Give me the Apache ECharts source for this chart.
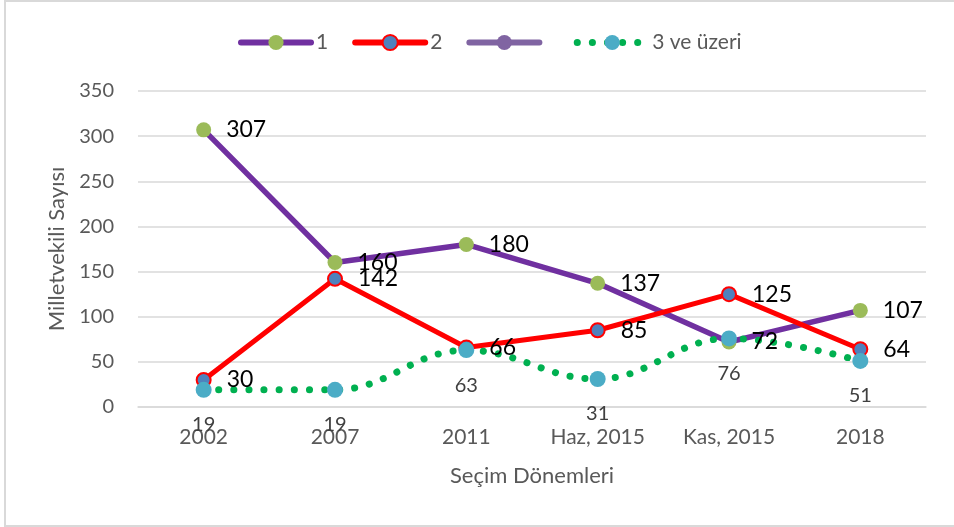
<!DOCTYPE html>
<html>
<head>
<meta charset="utf-8">
<script src="https://cdn.jsdelivr.net/npm/echarts@6/dist/echarts.min.js"></script>
<style>
  html, body { margin: 0; padding: 0; background: #fff; }
  #chart { width: 954px; height: 527px; }
</style>
</head>
<body>
<div id="chart"></div>
<script>
// Election periods and seat counts per group
const periods = ['2002', '2007', '2011', 'Haz, 2015', 'Kas, 2015', '2018'];
const yTicks = [0, 50, 100, 150, 200, 250, 300, 350];
const seriesOneName = '1';
const seriesOne = [307, 160, 180, 137, 72, 107];
const seriesTwoName = '2';
const seriesTwo = [30, 142, 66, 85, 125, 64];
const seriesEmptyName = ' ';
const seriesEmpty = [];
const seriesThreeName = '3 ve üzeri';
const seriesThree = [19, 19, 63, 31, 76, 51];

const FONT = 'Lato';
const GREY = '#595959';
const dotted = [0.1, 15];

const chart = echarts.init(document.getElementById('chart'), null, { renderer: 'canvas' });

const option = {
  backgroundColor: '#ffffff',
  animation: false,
  textStyle: { fontFamily: FONT },
  graphic: [{
    type: 'rect',
    silent: true,
    shape: { x: 5, y: 1, width: 960, height: 525 },
    style: { fill: 'none', stroke: '#d9d9d9', lineWidth: 2 }
  }],
  legend: {
    left: 233,
    top: 27,
    itemWidth: 70,
    itemHeight: 19,
    itemGap: 24,
    textStyle: { fontFamily: FONT, fontSize: 21, color: GREY },
    data: [
      { name: seriesOneName, lineStyle: { width: 6, cap: 'round' } },
      { name: seriesTwoName, lineStyle: { width: 6, cap: 'round' } },
      { name: seriesEmptyName, lineStyle: { width: 6, cap: 'round' } },
      { name: seriesThreeName, lineStyle: { width: 7, type: dotted, cap: 'round' } }
    ]
  },
  grid: { left: 138, right: 28, top: 91, bottom: 120 },
  xAxis: {
    type: 'category',
    data: periods,
    boundaryGap: true,
    name: 'Seçim Dönemleri',
    nameLocation: 'middle',
    nameGap: 58,
    nameTextStyle: { fontFamily: FONT, fontSize: 22, color: GREY },
    axisLine: { show: true, lineStyle: { color: '#d9d9d9', width: 1.5 } },
    axisTick: { show: false },
    axisLabel: { margin: 20, fontFamily: FONT, fontSize: 21, color: GREY }
  },
  yAxis: {
    type: 'value',
    min: yTicks[0],
    max: yTicks[yTicks.length - 1],
    interval: yTicks[1] - yTicks[0],
    name: 'Milletvekili Sayısı',
    nameLocation: 'middle',
    nameGap: 68,
    nameTextStyle: { fontFamily: FONT, fontSize: 22, color: GREY },
    axisLine: { show: false },
    axisTick: { show: false },
    axisLabel: { margin: 24, fontFamily: FONT, fontSize: 20, color: GREY },
    splitLine: { lineStyle: { color: '#d9d9d9', width: 1.5 } }
  },
  series: [
    {
      name: seriesOneName,
      type: 'line',
      data: seriesOne,
      symbol: 'circle',
      symbolSize: 15,
      lineStyle: { color: '#7030A0', width: 5.5 },
      itemStyle: { color: '#9BBB59' },
      label: {
        show: true, position: 'right', distance: 15,
        fontFamily: FONT, fontSize: 23, color: '#000000'
      }
    },
    {
      name: seriesTwoName,
      type: 'line',
      data: seriesTwo,
      symbol: 'circle',
      symbolSize: 14,
      lineStyle: { color: '#FF0000', width: 5 },
      itemStyle: { color: '#4F81BD', borderColor: '#FF0000', borderWidth: 2 },
      label: {
        show: true, position: 'right', distance: 15,
        fontFamily: FONT, fontSize: 23, color: '#000000'
      }
    },
    {
      name: seriesEmptyName,
      type: 'line',
      data: seriesEmpty,
      symbol: 'circle',
      symbolSize: 15,
      lineStyle: { color: '#8064A2', width: 5 },
      itemStyle: { color: '#8064A2' }
    },
    {
      name: seriesThreeName,
      type: 'line',
      data: seriesThree,
      smooth: 0.4,
      symbol: 'circle',
      symbolSize: 16,
      lineStyle: { color: '#00B050', width: 7, type: dotted, cap: 'round' },
      itemStyle: { color: '#4BACC6' },
      label: {
        show: true, position: 'bottom', distance: 17,
        fontFamily: FONT, fontSize: 20, color: '#404040'
      }
    }
  ]
};

chart.setOption(option);
</script>
</body>
</html>
